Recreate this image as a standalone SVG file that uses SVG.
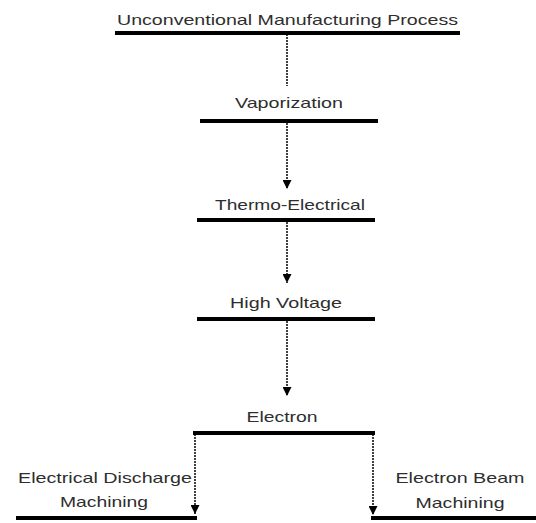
<svg xmlns="http://www.w3.org/2000/svg" width="536" height="523" viewBox="0 0 536 523">
<defs>
<style>
.bar{stroke:#000;stroke-width:4;fill:none}
.con{stroke:#111;stroke-width:1.6;stroke-dasharray:2 1;fill:none}
.lbl{font-family:"Liberation Sans",Arial,sans-serif;font-size:15px;fill:#2e2e2e;text-anchor:middle}
</style>
<marker id="ah" viewBox="0 0 10 10" refX="10" refY="5" markerWidth="9" markerHeight="9" markerUnits="userSpaceOnUse" orient="auto">
<path d="M0,0 L10,5 L0,10 z" fill="#000"/>
</marker>
</defs>
<rect width="536" height="523" fill="#fff"/>
<g id="connectors">
<line class="con" x1="287" y1="34" x2="287" y2="86"/>
<line class="con" x1="287" y1="123" x2="287" y2="189" marker-end="url(#ah)"/>
<line class="con" x1="287" y1="222" x2="287" y2="283" marker-end="url(#ah)"/>
<line class="con" x1="287" y1="321" x2="287" y2="396" marker-end="url(#ah)"/>
<line class="con" x1="195" y1="434" x2="195" y2="514" marker-end="url(#ah)"/>
<line class="con" x1="373" y1="434" x2="373" y2="515" marker-end="url(#ah)"/>
</g>
<g id="n-ump">
<text class="lbl" x="287.5" y="25" textLength="341" lengthAdjust="spacingAndGlyphs">Unconventional Manufacturing Process</text>
<line class="bar" x1="115" y1="33" x2="460" y2="33"/>
</g>
<g id="n-vap">
<text class="lbl" x="289" y="108" textLength="108" lengthAdjust="spacingAndGlyphs">Vaporization</text>
<line class="bar" x1="200" y1="121" x2="378" y2="121"/>
</g>
<g id="n-thermo">
<text class="lbl" x="290" y="210" textLength="150" lengthAdjust="spacingAndGlyphs">Thermo-Electrical</text>
<line class="bar" x1="197" y1="220" x2="375" y2="220"/>
</g>
<g id="n-hv">
<text class="lbl" x="286" y="308" textLength="112" lengthAdjust="spacingAndGlyphs">High Voltage</text>
<line class="bar" x1="197" y1="319" x2="375" y2="319"/>
</g>
<g id="n-electron">
<text class="lbl" x="282" y="422" textLength="71" lengthAdjust="spacingAndGlyphs">Electron</text>
<line class="bar" x1="193" y1="433" x2="375" y2="433"/>
</g>
<g id="n-edm">
<text class="lbl" x="105" y="483" textLength="174" lengthAdjust="spacingAndGlyphs">Electrical Discharge</text>
<text class="lbl" x="104" y="507" textLength="88" lengthAdjust="spacingAndGlyphs">Machining</text>
<line class="bar" x1="16" y1="518" x2="197" y2="518"/>
</g>
<g id="n-ebm">
<text class="lbl" x="460" y="483" textLength="129" lengthAdjust="spacingAndGlyphs">Electron Beam</text>
<text class="lbl" x="460" y="508" textLength="89" lengthAdjust="spacingAndGlyphs">Machining</text>
<line class="bar" x1="371" y1="518" x2="536" y2="518"/>
</g>
</svg>
